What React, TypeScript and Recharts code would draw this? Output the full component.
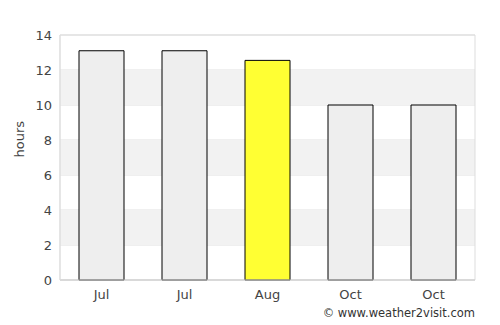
import { BarChart, Bar, XAxis, YAxis, CartesianGrid, ReferenceArea, Cell } from 'recharts'

const months = ['Jul', 'Jul', 'Aug', 'Oct', 'Oct']
const hours = [13.1, 13.1, 12.55, 10, 10]
const highlight = [false, false, true, false, false]
const yTicks = [0, 2, 4, 6, 8, 10, 12, 14]
const bands = [[2, 4], [6, 8], [10, 12]]

const data = months.map((m, i) => ({ month: m, hours: hours[i], hi: highlight[i] }))

const font = 'DejaVu Sans, sans-serif'

export default function App() {
  return (
    <div style={{ position: 'absolute', left: 0, top: 0, width: 500, height: 325, background: '#fff', fontFamily: font }}>
      <BarChart width={500} height={325} data={data} margin={{ top: 35, right: 25, bottom: 15, left: 0 }}>
        {bands.map(([a, b]) => (
          <ReferenceArea key={a} y1={a} y2={b} fill="#f2f2f2" fillOpacity={1} stroke="none" />
        ))}
        <CartesianGrid vertical={false} stroke="#e0e0e0" />
        <ReferenceArea y1={0} y2={14} fill="none" stroke="#dddddd" />
        <XAxis
          dataKey="month"
          axisLine={{ stroke: '#cccccc' }}
          tickLine={false}
          tick={{ fontSize: 13, fill: '#444', fontFamily: font }}
          tickMargin={4}
        />
        <YAxis
          domain={[0, 14]}
          ticks={yTicks}
          width={60}
          axisLine={{ stroke: '#dddddd' }}
          tickLine={false}
          tickMargin={2}
          tick={{ fontSize: 13, fill: '#444', fontFamily: font }}
          label={{ value: 'hours', angle: -90, position: 'insideLeft', offset: 19, fill: '#444', fontSize: 13, fontFamily: font }}
        />
        <Bar dataKey="hours" barSize={45} stroke="#000" strokeWidth={1} isAnimationActive={false}>
          {data.map((d, i) => (
            <Cell key={i} fill={d.hi ? '#ffff33' : '#eeeeee'} />
          ))}
        </Bar>
      </BarChart>
      <div style={{ position: 'absolute', right: 25, top: 306, fontSize: 11.5, color: '#333', fontFamily: font }}>
        © www.weather2visit.com
      </div>
    </div>
  )
}
